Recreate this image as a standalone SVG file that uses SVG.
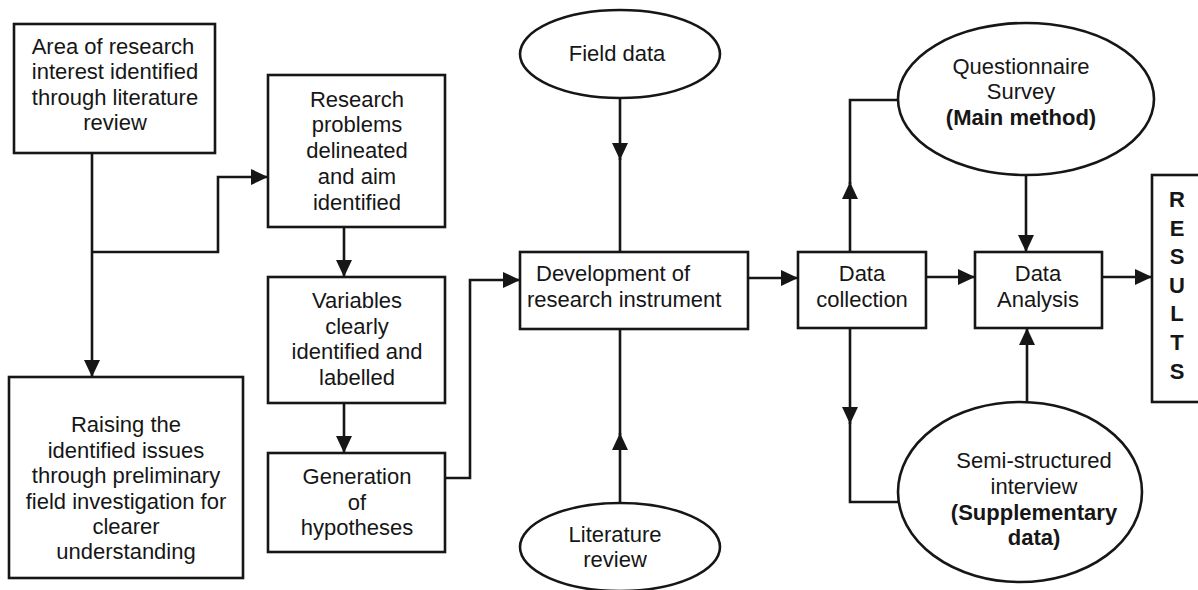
<svg xmlns="http://www.w3.org/2000/svg" width="1198" height="590" viewBox="0 0 1198 590">
  <style>
    .box { fill: #ffffff; stroke: #161616; stroke-width: 2.6; }
    .ell { fill: #ffffff; stroke: #161616; stroke-width: 2.6; }
    .t { font-family: "Liberation Sans", Arial, sans-serif; font-size: 22px; fill: #161616; text-anchor: middle; }
    .b { font-weight: bold; }
    .l { text-anchor: start; }
    .c { fill: none; stroke: #161616; stroke-width: 2.6; }
    .a { marker-end: url(#arrow); }
  </style>
  <defs>
    <marker id="arrow" markerUnits="userSpaceOnUse" markerWidth="18" markerHeight="18" refX="17" refY="8" orient="auto">
      <path d="M0,0 L17,8 L0,16 Z" fill="#161616"/>
    </marker>
  </defs>
  <rect width="1198" height="590" fill="#ffffff"/>

  <!-- connectors -->
  <g id="connectors">
    <path class="c a" d="M92,153 V377"/>
    <path class="c a" d="M92,252 H218 V177 H268"/>
    <path class="c a" d="M344,227 V277"/>
    <path class="c a" d="M344,403 V453"/>
    <path class="c a" d="M445,478 H470 V280 H520"/>
    <path class="c a" d="M620,98 V160"/>
    <path class="c" d="M620,158 V252"/>
    <path class="c a" d="M620,503 V433"/>
    <path class="c" d="M620,435 V329"/>
    <path class="c a" d="M748,278 H798"/>
    <path class="c a" d="M926,277 H975"/>
    <path class="c a" d="M1102,277 H1152"/>
    <path class="c a" d="M850,252 V182"/>
    <path class="c" d="M850,184 V100 H898"/>
    <path class="c a" d="M1026,175 V252"/>
    <path class="c a" d="M850,328 V424"/>
    <path class="c" d="M850,422 V502 H899"/>
    <path class="c a" d="M1027,402 V328"/>
  </g>

  <g id="area-of-interest">
    <rect class="box" x="14" y="24" width="201" height="129"/>
    <text class="t" x="113" y="54">Area of research</text>
    <text class="t" x="115" y="79">interest identified</text>
    <text class="t" x="115" y="105">through literature</text>
    <text class="t" x="115" y="130">review</text>
  </g>

  <g id="raising-issues">
    <rect class="box" x="9" y="377" width="234" height="201"/>
    <text class="t" x="126" y="432">Raising the</text>
    <text class="t" x="126" y="458">identified issues</text>
    <text class="t" x="126" y="483">through preliminary</text>
    <text class="t" x="126" y="509">field investigation for</text>
    <text class="t" x="126" y="534">clearer</text>
    <text class="t" x="126" y="559">understanding</text>
  </g>

  <g id="research-problems">
    <rect class="box" x="268" y="75" width="177" height="152"/>
    <text class="t" x="357" y="107">Research</text>
    <text class="t" x="357" y="132">problems</text>
    <text class="t" x="357" y="158">delineated</text>
    <text class="t" x="357" y="184">and aim</text>
    <text class="t" x="357" y="210">identified</text>
  </g>

  <g id="variables">
    <rect class="box" x="268" y="277" width="177" height="126"/>
    <text class="t" x="357" y="308">Variables</text>
    <text class="t" x="357" y="334">clearly</text>
    <text class="t" x="357" y="359">identified and</text>
    <text class="t" x="357" y="385">labelled</text>
  </g>

  <g id="hypotheses">
    <rect class="box" x="268" y="453" width="177" height="99"/>
    <text class="t" x="357" y="484">Generation</text>
    <text class="t" x="357" y="510">of</text>
    <text class="t" x="357" y="535">hypotheses</text>
  </g>

  <g id="field-data">
    <ellipse class="ell" cx="620" cy="54" rx="100" ry="44"/>
    <text class="t" x="617" y="61">Field data</text>
  </g>

  <g id="research-instrument">
    <rect class="box" x="520" y="252" width="228" height="77"/>
    <text class="t l" x="536" y="281">Development of</text>
    <text class="t l" x="527" y="307">research instrument</text>
  </g>

  <g id="literature-review">
    <ellipse class="ell" cx="620" cy="547" rx="100" ry="44"/>
    <text class="t" x="615" y="542">Literature</text>
    <text class="t" x="615" y="567">review</text>
  </g>

  <g id="data-collection">
    <rect class="box" x="798" y="252" width="128" height="76"/>
    <text class="t" x="862" y="281">Data</text>
    <text class="t" x="862" y="307">collection</text>
  </g>

  <g id="data-analysis">
    <rect class="box" x="975" y="252" width="127" height="76"/>
    <text class="t" x="1038" y="281">Data</text>
    <text class="t" x="1038" y="307">Analysis</text>
  </g>

  <g id="questionnaire">
    <ellipse class="ell" cx="1026" cy="99" rx="128" ry="76"/>
    <text class="t" x="1021" y="74">Questionnaire</text>
    <text class="t" x="1021" y="99">Survey</text>
    <text class="t b" x="1021" y="125">(Main method)</text>
  </g>

  <g id="semi-structured">
    <ellipse class="ell" cx="1020" cy="492" rx="122" ry="90"/>
    <text class="t" x="1034" y="468">Semi-structured</text>
    <text class="t" x="1034" y="494">interview</text>
    <text class="t b" x="1034" y="520">(Supplementary</text>
    <text class="t b" x="1034" y="545">data)</text>
  </g>

  <g id="results">
    <rect class="box" x="1152" y="175" width="70" height="227"/>
    <text class="t b" x="1177" y="207">R</text>
    <text class="t b" x="1177" y="236">E</text>
    <text class="t b" x="1177" y="264">S</text>
    <text class="t b" x="1177" y="293">U</text>
    <text class="t b" x="1177" y="321">L</text>
    <text class="t b" x="1177" y="350">T</text>
    <text class="t b" x="1177" y="379">S</text>
  </g>
</svg>
